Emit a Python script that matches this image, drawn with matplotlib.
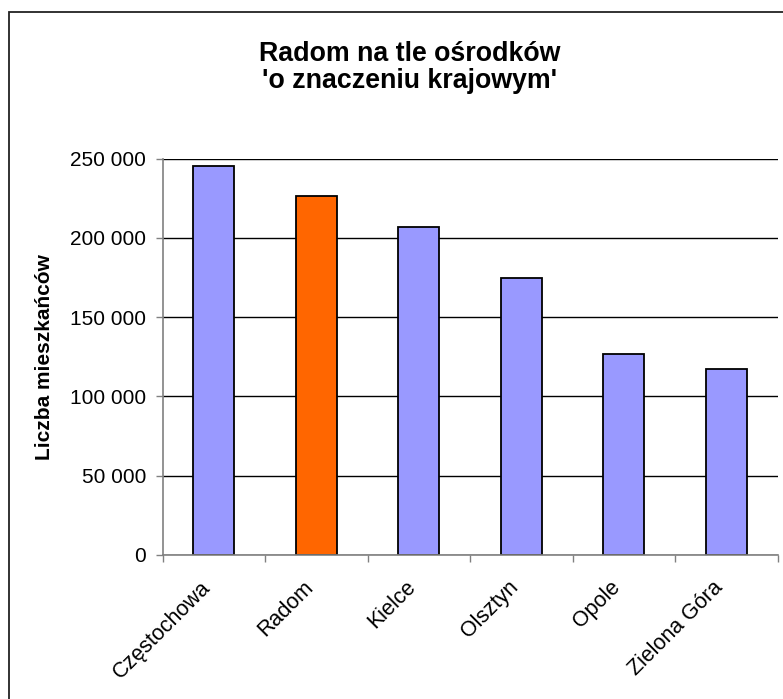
import matplotlib
matplotlib.use("Agg")
import matplotlib.pyplot as plt
from matplotlib.patches import Rectangle
from matplotlib.ticker import FuncFormatter, MultipleLocator
from matplotlib.transforms import ScaledTranslation

plt.rcParams["font.family"] = ["Liberation Sans", "DejaVu Sans"]

cities = ["Częstochowa", "Radom", "Kielce", "Olsztyn", "Opole", "Zielona Góra"]
population = [245500, 226500, 207000, 174700, 127000, 117300]
highlight = "Radom"

title_lines = ["Radom na tle ośrodków", "'o znaczeniu krajowym'"]
y_label = "Liczba mieszkańców"

W, H = 783, 699
fig = plt.figure(figsize=(W / 100, H / 100), dpi=100)
fig.patch.set_facecolor("white")


def fx(px):
    return px / W


def fy(py):
    return 1 - py / H


# outer chart-area frame (right and bottom edges fall outside the image)
fig.patches.append(Rectangle((fx(9), -0.1), 1.2, fy(12) + 0.1,
                             transform=fig.transFigure, fill=False,
                             edgecolor="#222222", linewidth=1.3))

ax = fig.add_axes([fx(162.7), fy(554.7), fx(777.7) - fx(162.7), fy(158.7) - fy(554.7)])

colors = ["#FF6600" if c == highlight else "#9999FF" for c in cities]
x = list(range(len(cities)))
ax.bar(x, population, width=0.4, color=colors, edgecolor="black",
       linewidth=1.3, zorder=3)

ax.set_xlim(-0.5, len(cities) - 0.5)
ax.set_ylim(0, 250000)
ax.yaxis.set_major_locator(MultipleLocator(50000))
ax.yaxis.set_major_formatter(FuncFormatter(lambda v, _: f"{int(v):,}".replace(",", " ")))
ax.grid(axis="y", color="black", linewidth=1.0, zorder=1)
ax.set_axisbelow(True)

for side in ("top", "right"):
    ax.spines[side].set_visible(False)
for side in ("left", "bottom"):
    ax.spines[side].set_color("#808080")
    ax.spines[side].set_linewidth(1.2)
    ax.spines[side].set_zorder(4)

ax.tick_params(axis="y", length=5, width=1, color="#808080", pad=7,
               labelsize=15)

# category ticks sit on the boundaries; labels are drawn separately
ax.set_xticks([i - 0.5 for i in range(len(cities) + 1)])
ax.set_xticklabels([])
ax.tick_params(axis="x", length=5, width=1, color="#808080")

shift = ScaledTranslation(-14 / 100, -22 / 100, fig.dpi_scale_trans)
for i, name in enumerate(cities):
    ax.text(i, 0, name, transform=ax.get_xaxis_transform() + shift,
            rotation=45, ha="right", va="top", rotation_mode="anchor",
            fontsize=15.5)

fig.text(fx(45), fy(357), y_label, rotation=90, ha="center", va="center",
         fontsize=15, fontweight="bold")

fig.text(fx(410), fy(61), title_lines[0], ha="center", va="baseline",
         fontsize=19.3, fontweight="bold")
fig.text(fx(410), fy(87.5), title_lines[1], ha="center", va="baseline",
         fontsize=19.3, fontweight="bold")

fig.savefig("out.png", dpi=100)
